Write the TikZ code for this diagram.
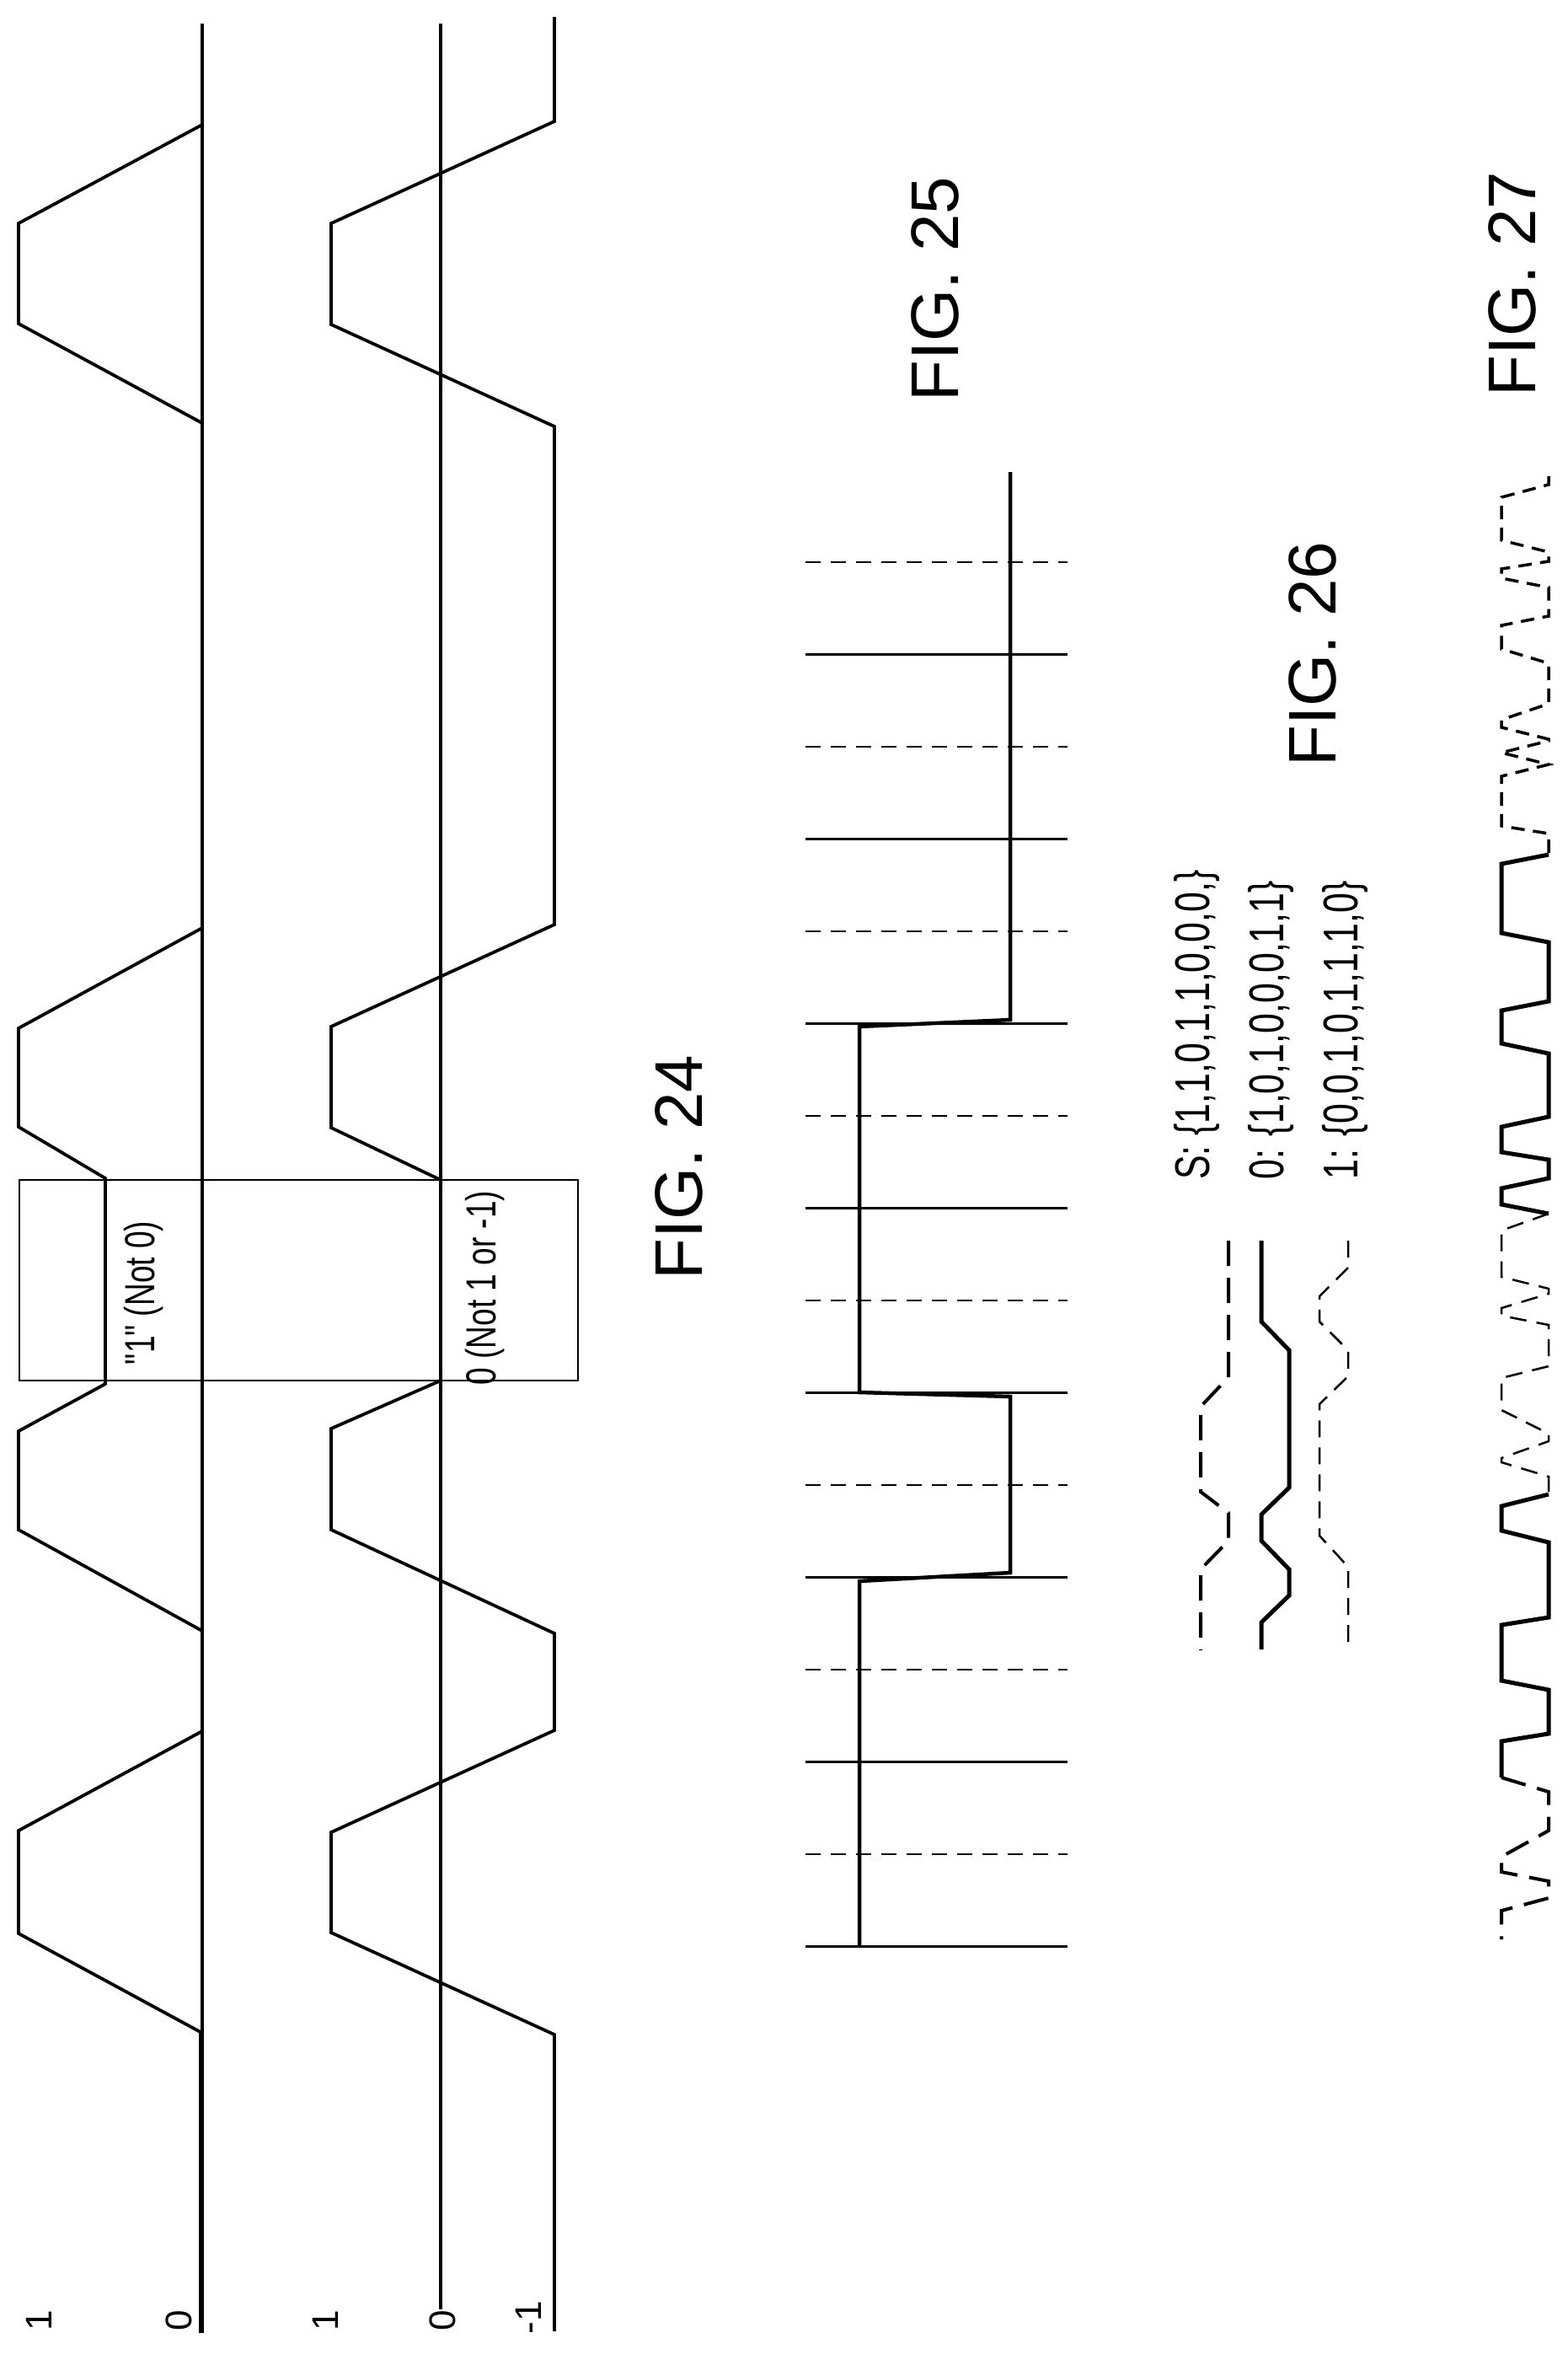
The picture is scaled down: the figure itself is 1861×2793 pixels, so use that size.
\documentclass[tikz,border=0pt]{standalone}
\usepackage{fontspec}
\setmainfont{Liberation Sans}
\newfontfamily\narrowfont[FakeStretch=0.74]{Liberation Sans}
\begin{document}
\begin{tikzpicture}[x=1pt,y=-1pt,line join=miter,
  axisline/.style={line width=3.2pt},
  sig/.style={line width=3.8pt},
  thinbox/.style={line width=1.6pt},
  gridsolid/.style={line width=3.5pt},
  griddash/.style={line width=2.5pt,dash pattern=on 18pt off 12pt},
  sdash/.style={line width=4pt,dash pattern=on 30pt off 14pt},
  zsolid/.style={line width=5pt},
  odash/.style={line width=2.5pt,dash pattern=on 20pt off 12pt},
  adash/.style={line width=3.5pt,dash pattern=on 16pt off 10pt},
  figlab/.style={font=\fontsize{80}{90}\selectfont,rotate=90,inner sep=0pt},
  ticklab/.style={font=\fontsize{44}{50}\selectfont,rotate=90,inner sep=0pt},
  boxlab/.style={font=\narrowfont\fontsize{50}{56}\selectfont,rotate=90,inner sep=0pt},
  seqlab/.style={font=\narrowfont\fontsize{58}{62}\selectfont,rotate=90,inner sep=0pt,anchor=west}]
\useasboundingbox (0,0) rectangle (1861,2793);
\fill[white] (0,0) rectangle (1861,2793);
% ---------- FIG 24 ----------
\draw[axisline] (240,28) -- (240,2768);
\draw[axisline] (523,28) -- (523,2740);
\draw[sig] (240,148)--(22,265)--(22,384)--(240,502)--(240,1101)--(22,1220)--(22,1337)--(125,1398)--(125,1642)--(22,1698)--(22,1815)--(240,1935)--(240,2054)--(22,2172)--(22,2294)--(238,2411)--(238,2768);
\draw[sig] (658,20)--(658,144)--(393,265)--(393,385)--(658,506)--(658,1097)--(393,1218)--(393,1338)--(523,1400)--(523,1638)--(393,1695)--(393,1815)--(658,1938)--(658,2053)--(393,2174)--(393,2293)--(658,2414)--(658,2766);
\draw[thinbox] (23,1400) rectangle (686,1638);
\node[boxlab] (l1) at (171,1534) {"1" (Not 0)};
\node[boxlab] (l0) at (576,1528) {0 (Not 1 or -1)};
\node[ticklab] (t1) at (46,2753) {1};
\node[ticklab] (t0) at (212,2753) {0};
\node[ticklab] (u1) at (386,2753) {1};
\node[ticklab] (u0) at (525,2753) {0};
\node[ticklab] (um) at (627,2750) {-1};
\node[figlab] (f24) at (806,1385) {FIG. 24};
% ---------- FIG 25 ----------
\foreach \i in {0,...,15}{
  \pgfmathsetmacro{\yy}{667+109.5*\i}
  \ifodd\i \draw[gridsolid] (956,\yy) -- (1267,\yy);
  \else \draw[griddash] (956,\yy) -- (1267,\yy); \fi
}
\draw[line width=4.5pt] (1199,560)--(1199,1210)--(1020,1218)--(1020,1652)--(1199,1657)--(1199,1866)--(1020,1876)--(1020,2309);
\node[figlab] (f25) at (1110,343) {FIG. 25};
% ---------- FIG 26 ----------
\draw[sdash] (1458,1472)--(1458,1634)--(1425,1669)--(1425,1770)--(1458,1795)--(1458,1828)--(1425,1862)--(1425,1958);
\draw[zsolid] (1497,1472)--(1497,1568)--(1530,1602)--(1530,1765)--(1497,1797)--(1497,1828)--(1530,1862)--(1530,1893)--(1497,1925)--(1497,1957);
\draw[odash] (1600,1472)--(1600,1504)--(1566,1538)--(1566,1568)--(1600,1602)--(1600,1633)--(1566,1666)--(1566,1822)--(1600,1859)--(1600,1957);
\node[seqlab] (sS) at (1420,1400) {S: \{1,1,0,1,1,0,0,0,\}};
\node[seqlab] (s0) at (1508,1400) {0: \{1,0,1,0,0,0,1,1\}};
\node[seqlab] (s1) at (1596,1400) {1: \{0,0,1,0,1,1,1,0\}};
\node[figlab] (f26) at (1558,776) {FIG. 26};
% ---------- FIG 27 ----------
\draw[adash] (1838,565)--(1838,575)--(1782,590)--(1782,641)--(1838,655)--(1838,666)--(1782,675)--(1782,686)--(1838,697)--(1838,731)--(1782,742)--(1782,770)--(1838,787)--(1838,835)--(1782,854)--(1782,863)--(1838,877)--(1838,879)--(1782,893)--(1838,907)--(1782,921)--(1782,980)--(1838,989)--(1838,1014);
\draw[zsolid] (1838,1014)--(1782,1025)--(1782,1107)--(1838,1118)--(1838,1188)--(1782,1199)--(1782,1238)--(1838,1250)--(1838,1325)--(1782,1337)--(1782,1367)--(1838,1376)--(1838,1398)--(1782,1410)--(1782,1429)--(1838,1440);
\draw[odash] (1838,1440)--(1782,1460)--(1782,1515)--(1838,1529)--(1838,1535)--(1782,1552)--(1782,1561)--(1838,1572)--(1838,1621)--(1782,1635)--(1782,1673)--(1838,1701)--(1838,1710)--(1782,1730)--(1782,1735)--(1838,1752)--(1838,1773);
\draw[zsolid] (1838,1773)--(1782,1787)--(1782,1816)--(1838,1830)--(1838,1919)--(1782,1928)--(1782,1994)--(1838,2005)--(1838,2057)--(1782,2066)--(1782,2109);
\draw[sdash] (1782,2109)--(1838,2126)--(1838,2172)--(1782,2203)--(1782,2221)--(1838,2232)--(1838,2252)--(1782,2267)--(1782,2301);
\node[figlab] (f27) at (1795,337) {FIG. 27};
\end{tikzpicture}
\end{document}
